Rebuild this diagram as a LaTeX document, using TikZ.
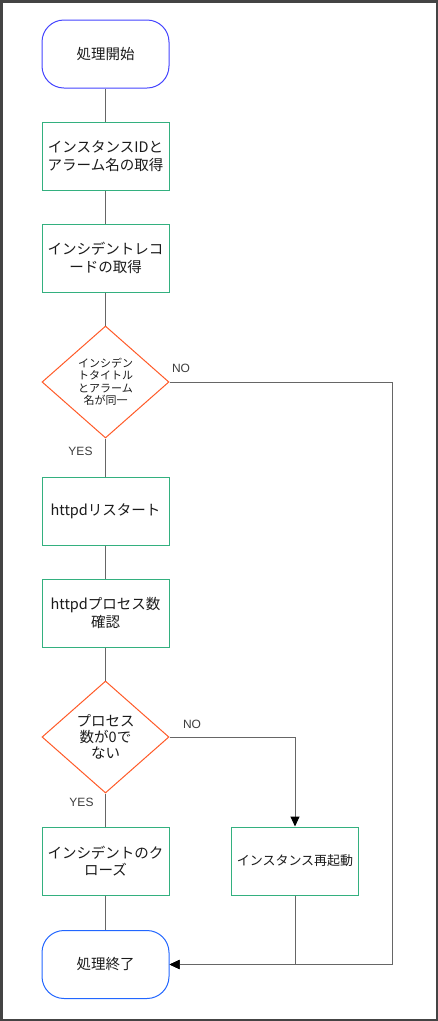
\documentclass[tikz,border=0pt]{standalone}
\usepackage{fontspec}
\setmainfont{Liberation Sans}
\newfontfamily\jp{Noto Sans CJK JP}
\usetikzlibrary{shapes.geometric,arrows.meta}
\definecolor{startblue}{HTML}{4444FF}
\definecolor{endblue}{HTML}{2266FF}
\definecolor{boxgreen}{HTML}{33B07F}
\definecolor{decred}{HTML}{FF5A28}
\definecolor{linegray}{HTML}{666666}
\definecolor{framegray}{HTML}{444444}
\definecolor{txt}{HTML}{1A1A1A}
\begin{document}
\begin{tikzpicture}[x=1pt,y=-1pt,
  term/.style={draw, line width=1pt, rounded corners=22pt, minimum width=127pt, minimum height=68pt, inner sep=0pt, text=txt, font=\jp\fontsize{14.5}{17}\selectfont},
  proc/.style={draw=boxgreen, line width=1pt, minimum width=127pt, minimum height=68pt, inner sep=1pt, align=center, text=txt, font=\jp\fontsize{14.5}{17.5}\selectfont},
  dec/.style={diamond, draw=decred, line width=1pt, minimum width=127pt, minimum height=112pt, inner sep=0pt, aspect=1.13, align=center, text=txt},
  conn/.style={draw=linegray, line width=1pt},
  arr/.style={-{Triangle[length=10pt,width=9pt,color=black]}},
  lbl/.style={inner sep=0pt, text=txt!85, font=\fontsize{12}{14}\selectfont}]
\useasboundingbox (0,0) rectangle (438,1021);
\draw[framegray, line width=2.5pt] (1.25,1.25) rectangle (436.75,1019.75);
\node[term, draw=startblue] (start) at (105.5,54) {処理開始};
\node[proc] (b1) at (105.5,156) {インスタンスIDと\\アラーム名の取得};
\node[proc] (b2) at (105.5,258) {インシデントレコ\\ードの取得};
\node[dec, font=\jp\fontsize{11}{12.5}\selectfont] (d1) at (105.5,382) {インシデン\\トタイトル\\とアラーム\\名が同一};
\node[proc] (b3) at (105.5,511) {httpdリスタート};
\node[proc] (b4) at (105.5,613) {httpdプロセス数\\確認};
\node[dec, font=\jp\fontsize{14.5}{16}\selectfont] (d2) at (105.5,737) {プロセス\\数が0で\\ない};
\node[proc] (b5) at (105.5,861) {インシデントのク\\ローズ};
\node[proc, font=\jp\fontsize{13}{15}\selectfont] (b6) at (295,861) {インスタンス再起動};
\node[term, draw=endblue] (end) at (105.5,964.5) {処理終了};
\coordinate (rx) at (392,0);
\draw[conn] (start) -- (b1);
\draw[conn] (b1) -- (b2);
\draw[conn] (b2) -- (d1);
\draw[conn] (d1) -- (b3);
\draw[conn] (b3) -- (b4);
\draw[conn] (b4) -- (d2);
\draw[conn] (d2) -- (b5);
\draw[conn] (b5) -- (end);
\draw[conn, arr] (d1.east) -- (d1.east -| rx) -- (end.east -| rx) -- (end.east);
\draw[conn, arr] (b6.south) |- (end.east);
\draw[conn, arr] (d2.east) -| (b6.north);
\node[lbl] (no1) at (181,368) {NO};
\node[lbl] (yes1) at (80.5,451) {YES};
\node[lbl] (no2) at (192,724) {NO};
\node[lbl] (yes2) at (81.5,802) {YES};
\end{tikzpicture}
\end{document}
